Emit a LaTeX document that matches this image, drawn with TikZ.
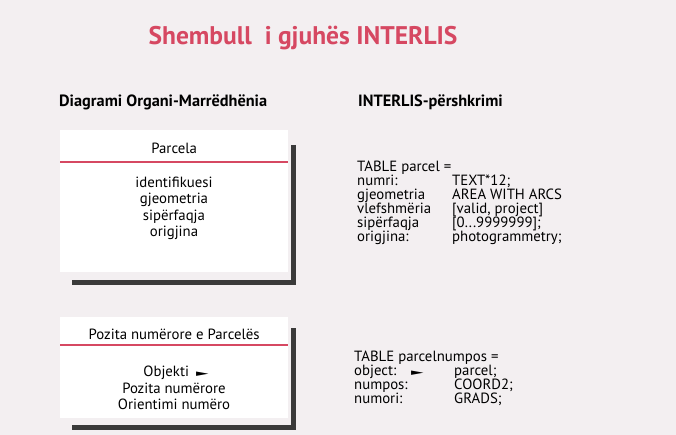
\documentclass[tikz,border=0pt]{standalone}
\usepackage{fontspec}
\setmainfont{PT Sans}
\newfontfamily\symfont{DejaVu Sans}
\usetikzlibrary{calc}
\definecolor{hong}{RGB}{214,72,98}
\definecolor{nen}{RGB}{243,239,241}
\definecolor{bong}{RGB}{58,58,58}
\newcommand{\muiten}{\scalebox{1.1}[0.6]{\symfont ►}}
\begin{document}
\begin{tikzpicture}[x=1pt, y=-1pt, font=\fontsize{14.8}{15}\selectfont, line join=miter,
  hop/.style={fill=white, inner sep=0pt, minimum width=228pt},
  vach/.style={hong, line width=1.8pt},
  bong/.style={draw=bong, line width=5.5pt},
  chu/.style={anchor=base, inner sep=0pt}]
\fill[nen] (0,0) rectangle (676,435);
\useasboundingbox (0,0) rectangle (676,435);
% tieu de
\node[chu, hong, font=\fontsize{25.5}{28}\selectfont\bfseries] (tieude) at (303,45) {Shembull\ \ i gjuhës INTERLIS};
\node[chu, anchor=base west, font=\fontsize{16.3}{18}\selectfont\bfseries] (trai) at (59,107) {Diagrami Organi-Marrëdhënia};
\node[chu, anchor=base west, font=\fontsize{16.3}{18}\selectfont\bfseries] (phai) at (358,107) {INTERLIS-përshkrimi};
% hop 1
\node[hop, minimum height=142pt, anchor=north west] (hop1) at (60,130) {};
\draw[bong] ($(hop1.north east)+(5,15)$) -- ($(hop1.south east)+(5,10)$) -- ($(hop1.south west)+(12,10)$);
\node[chu] (ten1) at (hop1.north |- 0,154) {Parcela};
\draw[vach] (hop1.west |- 0,162) -- (hop1.east |- 0,162);
\foreach \t [count=\i] in {identifikuesi, gjeometria, sipërfaqja, origjina}
  \node[chu] (tt\i) at (174,{171+16.5*\i}) {\t};
% hop 2
\node[hop, minimum height=101pt, anchor=north west] (hop2) at (60,317) {};
\draw[bong] ($(hop2.north east)+(5,11)$) -- ($(hop2.south east)+(5,9)$) -- ($(hop2.south west)+(12,9)$);
\node[chu] (ten2) at (hop2.north |- 0,339) {Pozita numërore e Parcelës};
\draw[vach] (hop2.west |- 0,345) -- (hop2.east |- 0,345);
\node[chu] (obj) at (176,376) {Objekti\hspace{7pt}\muiten};
\node[chu] (poz) at (174,393) {Pozita numërore};
\node[chu] (ori) at (174,409) {Orientimi numëro};
% bang INTERLIS
\node[chu, anchor=base west] (bang1) at (357,172) {TABLE parcel =};
\foreach \k/\v [count=\i] in {numri:/TEXT*12;, gjeometria/AREA WITH ARCS, vlefshmëria/{[valid, project]}, sipërfaqja/{[0...9999999];}, origjina:/photogrammetry;} {
  \node[chu, anchor=base west] (k\i) at (357,{172+14*\i}) {\k};
  \node[chu, anchor=base west] (v\i) at (452,{172+14*\i}) {\v};
}
\node[chu, anchor=base west] (bang2) at (354,361) {TABLE parcelnumpos =};
\foreach \k/\v [count=\i] in {object:/parcel;, numpos:/COORD2;, numori:/GRADS;} {
  \node[chu, anchor=base west] (m\i) at (354,{361+14*\i}) {\k};
  \node[chu, anchor=base west] (n\i) at (454,{361+14*\i}) {\v};
}
\node[chu, anchor=base west] (mt) at (411,375) {\muiten};
\end{tikzpicture}
\end{document}
